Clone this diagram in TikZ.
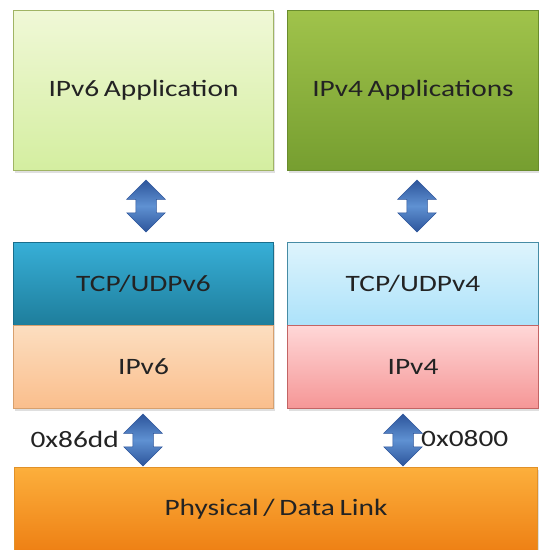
\documentclass[tikz,border=0pt]{standalone}
\usepackage{fontspec}
\setmainfont{Carlito}[FakeStretch=1.25,WordSpace=0.7]
\usetikzlibrary{shapes.arrows,shadows}
\definecolor{txt}{RGB}{35,35,35}
\definecolor{appSixT}{RGB}{240,248,215}
\definecolor{appSixB}{RGB}{212,238,160}
\definecolor{appSixD}{RGB}{160,180,100}
\definecolor{appFourT}{RGB}{160,195,75}
\definecolor{appFourB}{RGB}{118,158,48}
\definecolor{appFourD}{RGB}{105,140,45}
\definecolor{tcpSixT}{RGB}{55,175,215}
\definecolor{tcpSixB}{RGB}{30,125,155}
\definecolor{tcpSixD}{RGB}{25,110,140}
\definecolor{ipSixT}{RGB}{252,222,192}
\definecolor{ipSixB}{RGB}{250,190,140}
\definecolor{ipSixD}{RGB}{215,160,110}
\definecolor{tcpFourT}{RGB}{222,244,252}
\definecolor{tcpFourB}{RGB}{172,226,250}
\definecolor{tcpFourD}{RGB}{70,140,165}
\definecolor{ipFourT}{RGB}{255,215,215}
\definecolor{ipFourB}{RGB}{245,150,150}
\definecolor{ipFourD}{RGB}{195,100,100}
\definecolor{phyT}{RGB}{252,175,60}
\definecolor{phyB}{RGB}{238,128,20}
\definecolor{phyD}{RGB}{225,145,40}
\definecolor{arrD}{RGB}{45,85,155}
\definecolor{arrL}{RGB}{95,145,210}
\begin{document}
\begin{tikzpicture}[x=1pt,y=1pt,
  layer/.style={draw, line width=1pt, anchor=north west, inner sep=0pt,
    font=\fontsize{23.5}{26}\selectfont, text=txt,
    drop shadow={opacity=0.25, shadow xshift=1.5pt, shadow yshift=-2pt}},
  updown/.style={double arrow, rotate=90, minimum height=52pt, minimum width=38pt,
    inner xsep=0pt, inner ysep=10pt, double arrow head extend=9pt, draw=arrD, line width=0.5pt,
    top color=arrD, bottom color=arrD, middle color=arrL},
  lbl/.style={font=\fontsize{23.5}{26}\selectfont, text=txt, inner sep=0pt}]
\useasboundingbox (0,0) rectangle (539,-550);
% application layer
\node[layer, minimum width=260pt, minimum height=160pt, top color=appSixT, bottom color=appSixB, draw=appSixD]
  (app6) at (13,-10) {IPv6 Application};
\node[layer, minimum width=251pt, minimum height=160pt, top color=appFourT, bottom color=appFourB, draw=appFourD]
  (app4) at (287,-10) {IPv4 Applications};
% transport layer
\node[layer, minimum width=260pt, minimum height=83pt, top color=tcpSixT, bottom color=tcpSixB, draw=tcpSixD]
  (tcp6) at (13,-242) {TCP/UDPv6};
\node[layer, minimum width=251pt, minimum height=83pt, top color=tcpFourT, bottom color=tcpFourB, draw=tcpFourD]
  (tcp4) at (287,-242) {TCP/UDPv4};
% network layer
\node[layer, minimum width=260pt, minimum height=83pt, top color=ipSixT, bottom color=ipSixB, draw=ipSixD]
  (ip6) at (13,-325) {IPv6};
\node[layer, minimum width=251pt, minimum height=83pt, top color=ipFourT, bottom color=ipFourB, draw=ipFourD]
  (ip4) at (287,-325) {IPv4};
% physical layer
\node[layer, minimum width=523pt, minimum height=84pt, top color=phyT, bottom color=phyB, draw=phyD]
  (phy) at (14,-467) {Physical / Data Link};
% arrows
\node[updown] (a6) at (146,-206) {};
\node[updown] (a4) at (417,-206) {};
\node[updown] (b6) at (143,-440) {};
\node[updown] (b4) at (403,-440) {};
% ethertype labels
\node[lbl, anchor=east] (l6) at (119,-439) {0x86dd};
\node[lbl, anchor=west] (l4) at (421,-439) {0x0800};
\end{tikzpicture}
\end{document}
